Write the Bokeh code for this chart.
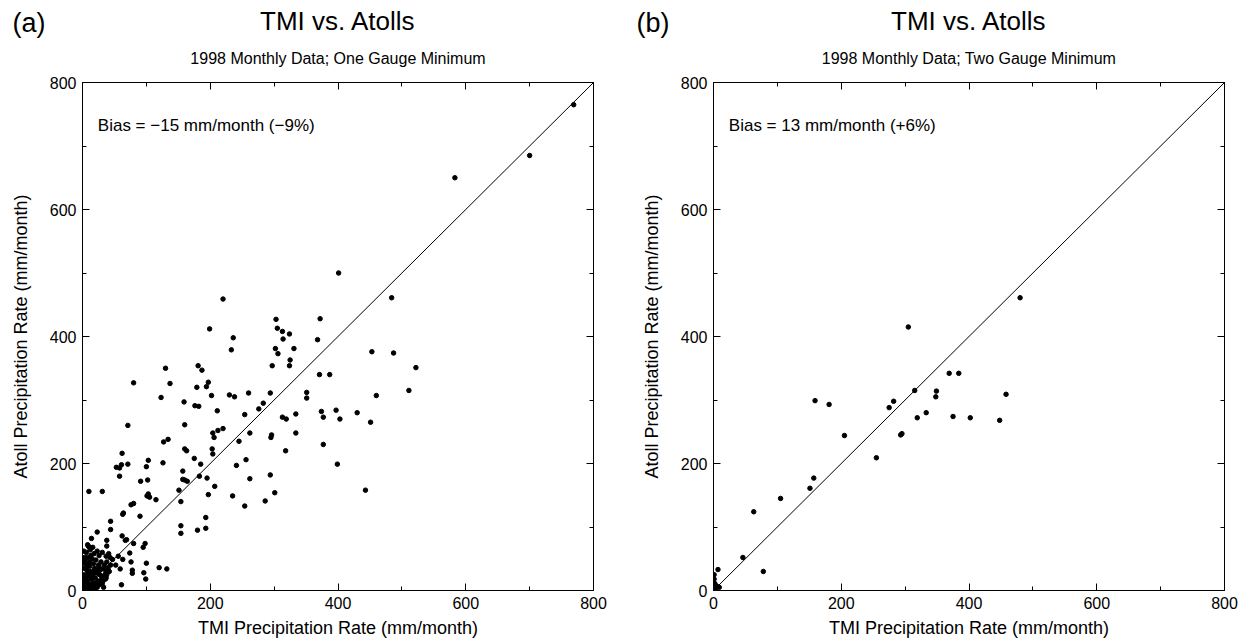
from bokeh.plotting import figure
from bokeh.models import Range1d, LinearAxis, SingleIntervalTicker, Label, Slope
from bokeh.layouts import row
from bokeh.embed import file_html
from bokeh.resources import INLINE

# ---------------- data ----------------
# Panel (a): one gauge minimum (TMI x, Atoll y), mm/month
a_tmi = [80, 137, 179, 194, 197, 123, 202, 230, 238, 260, 294, 351, 351, 159, 176, 182, 283, 276, 211, 254,
         313, 319, 334, 374, 377, 397, 403, 71, 160, 204, 206, 212, 220, 127, 134, 245, 262, 295, 296, 318,
         334, 377, 399, 160, 163, 175, 203, 204, 62, 61, 53, 58, 71, 58, 103, 100, 91, 102, 126, 157,
         157, 160, 164, 151, 154, 115, 103, 105, 101, 183, 185, 195, 207, 197, 235, 241, 256, 254, 262, 294,
         301, 286, 80, 76, 63, 64, 90, 10, 31, 44, 44, 23, 14, 38, 38, 9, 11, 62, 67, 69,
         80, 98, 95, 74, 56, 37, 43, 47, 63, 76, 100, 120, 132, 59, 78, 78, 96, 99, 61, 38,
         33, 180, 193, 193, 154, 154, 52, 37, 37, 31, 25, 26,
         401, 220, 303, 305, 313, 324, 314, 372, 368, 199, 236, 233, 302, 306, 331, 325, 324, 297, 130, 181,
         187, 371, 387,
         484, 453, 487, 522, 511, 460, 430, 451, 443,
         583, 700, 769,
         2, 4, 1, 6, 8, 3, 5, 10, 12, 9, 14, 15, 7, 11, 2, 4, 16, 18, 20, 13,
         6, 3, 1, 19, 22, 24, 17, 21, 25, 28, 30, 27, 32, 35, 12, 8, 15, 26, 29, 34,
         40, 42, 36, 23, 19, 10, 5, 0, 0, 14, 9, 6, 18, 23, 31, 11, 3, 20, 27, 33,
         16, 7, 13, 25, 38, 44, 2, 0, 17, 12, 29, 21, 8, 41, 5]
a_atoll = [327, 326, 320, 321, 328, 304, 307, 308, 305, 311, 311, 312, 303, 297, 291, 290, 295, 286, 283, 277,
           273, 270, 278, 282, 273, 284, 270, 260, 261, 248, 241, 252, 255, 234, 238, 235, 248, 241, 245, 220,
           248, 230, 199, 223, 220, 208, 223, 215, 216, 198, 194, 193, 199, 180, 205, 195, 172, 174, 201, 188,
           175, 174, 172, 158, 140, 143, 152, 147, 149, 180, 199, 177, 164, 151, 149, 197, 206, 133, 176, 182,
           154, 141, 137, 135, 120, 122, 117, 156, 156, 109, 96, 92, 82, 79, 70, 70, 68, 86, 79, 80,
           74, 74, 68, 59, 54, 54, 52, 49, 49, 45, 43, 36, 34, 34, 32, 27, 28, 18, 9, 25,
           34, 95, 98, 115, 102, 90, 40, 29, 20, 11, 9, 37,
           500, 459, 427, 413, 408, 404, 396, 428, 395, 412, 398, 379, 381, 373, 381, 363, 354, 354, 350, 354,
           347, 340, 340,
           461, 376, 374, 351, 315, 307, 280, 265, 158,
           650, 685, 765,
           3, 8, 12, 2, 15, 20, 25, 5, 10, 30, 18, 3, 40, 45, 35, 48, 26, 12, 20, 55,
           60, 52, 6, 35, 28, 15, 42, 48, 40, 33, 22, 10, 15, 25, 64, 52, 50, 55, 45, 40,
           35, 30, 18, 5, 2, 0, 0, 10, 25, 30, 22, 33, 58, 62, 60, 38, 43, 8, 25, 5,
           68, 10, 6, 32, 45, 40, 62, 45, 20, 25, 16, 30, 72, 58, 15]

# Panel (b): two gauge minimum
b_tmi = [305, 369, 384, 315, 349, 348, 458, 480, 159, 181, 282, 275, 319, 333, 375, 402, 448, 205, 293, 295,
         255, 157, 151, 105, 63, 46, 78, 7, 1, 1, 2, 5, 9, 1, 3]
b_atoll = [415, 342, 342, 315, 314, 305, 309, 461, 299, 293, 298, 288, 272, 280, 274, 272, 268, 244, 245, 247,
           209, 177, 161, 145, 124, 52, 30, 33, 25, 18, 11, 7, 5, 5, 3]

axis_range = [0, 800]
tick_step = 200
panel_tags = ["(a)", "(b)"]
main_title = "TMI vs. Atolls"
subtitles = ["1998 Monthly Data; One Gauge Minimum", "1998 Monthly Data; Two Gauge Minimum"]
bias_texts = ["Bias = \u221215 mm/month (\u22129%)", "Bias = 13 mm/month (+6%)"]
x_title = "TMI Precipitation Rate (mm/month)"
y_title = "Atoll Precipitation Rate (mm/month)"

FONT = "Liberation Sans"
FRAME_W = 511
FRAME_H = 508


def style_axis(ax, labels=True):
    ax.ticker = SingleIntervalTicker(interval=tick_step, num_minor_ticks=2)
    ax.axis_line_color = "black"
    ax.axis_line_width = 1
    ax.major_tick_line_color = "black"
    ax.minor_tick_line_color = "black"
    ax.major_tick_in = 7
    ax.major_tick_out = 0
    ax.minor_tick_in = 4
    ax.minor_tick_out = 0
    ax.major_label_text_font = FONT
    ax.axis_label_text_font = FONT
    ax.axis_label_text_font_size = "18px"
    ax.axis_label_text_font_style = "normal"
    ax.axis_label_text_color = "black"
    if labels:
        ax.major_label_text_font_size = "16px"
        ax.major_label_text_color = "black"
    else:
        ax.major_label_text_font_size = "0px"
        ax.major_label_text_color = None
        ax.major_label_standoff = 0


def make_panel(xs, ys, idx, left_b, right_b):
    p = figure(frame_width=FRAME_W, frame_height=FRAME_H,
               x_range=Range1d(*axis_range), y_range=Range1d(*axis_range),
               output_backend="svg", toolbar_location=None,
               min_border_left=left_b, min_border_right=right_b,
               min_border_top=82, min_border_bottom=51,
               x_axis_label=x_title, y_axis_label=y_title)
    p.xgrid.visible = False
    p.ygrid.visible = False
    p.outline_line_color = "black"
    p.background_fill_color = "white"
    p.border_fill_color = "white"
    style_axis(p.xaxis[0])
    style_axis(p.yaxis[0])
    p.xaxis[0].major_label_standoff = 6
    p.xaxis[0].axis_label_standoff = 6
    p.yaxis[0].major_label_standoff = 6
    p.yaxis[0].axis_label_standoff = 16
    top = LinearAxis()
    right = LinearAxis()
    style_axis(top, labels=False)
    style_axis(right, labels=False)
    p.add_layout(top, "above")
    p.add_layout(right, "right")

    # header texts placed in the top side panels (screen units relative to each panel)
    p.add_layout(Label(x=-70 if idx == 0 else -77, y=60, x_units="screen", y_units="screen",
                       text=panel_tags[idx], text_font=FONT, text_font_size="27px",
                       text_baseline="middle", text_align="left", text_color="black"), "above")
    p.add_layout(Label(x=FRAME_W / 2, y=32, x_units="screen", y_units="screen",
                       text=main_title, text_font=FONT, text_font_size="26px",
                       text_baseline="middle", text_align="center", text_color="black"), "above")
    p.add_layout(Label(x=FRAME_W / 2, y=-36, x_units="screen", y_units="screen",
                       text=subtitles[idx], text_font=FONT, text_font_size="16px",
                       text_baseline="middle", text_align="center", text_color="black"), "above")

    p.add_layout(Slope(gradient=1, y_intercept=0, line_color="black", line_width=1))
    p.scatter(xs, ys, size=4.5, color="black", marker="circle")

    p.add_layout(Label(x=24, y=733, text=bias_texts[idx], text_font=FONT, text_font_size="17px",
                       text_baseline="middle", text_align="left", text_color="black"))
    return p


pa = make_panel(a_tmi, a_atoll, 0, 82, 31)
pb = make_panel(b_tmi, b_atoll, 1, 89, 24)
layout = row(pa, pb)
open("out.html", "w").write(file_html(layout, INLINE))
